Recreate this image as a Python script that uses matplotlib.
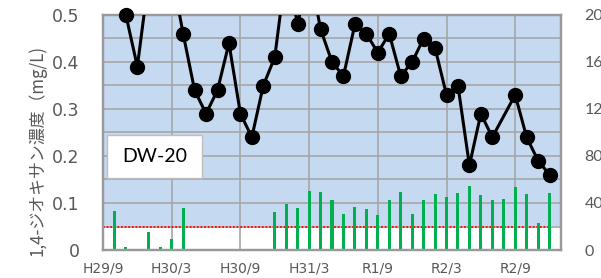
import matplotlib.pyplot as plt
import matplotlib.patches as patches
import numpy as np

# --- colours ---
COLOR_BG = '#C5D9F1'      # light blue plot background above the standard
COLOR_GRID = '#A6A6A6'
COLOR_TEXT = '#595959'
COLOR_BAR = '#00B050'
COLOR_LIMIT = '#FF0000'

# --- data (x = months since H29/9) ---
conc_months = [2, 3, 4, 5, 6, 7, 8, 9, 10, 11, 12, 13, 14, 15, 16, 17, 18, 19, 20,
               21, 22, 23, 24, 25, 26, 27, 28, 29, 30, 31, 32, 33, 34, 36, 37, 38, 39]
conc_values = [0.50, 0.39, 0.58, 0.62, 0.59, 0.46, 0.34, 0.29, 0.34, 0.44, 0.29, 0.24,
               0.35, 0.41, 0.60, 0.48, 0.60, 0.47, 0.40, 0.37, 0.48, 0.46, 0.42, 0.46,
               0.37, 0.40, 0.45, 0.43, 0.33, 0.35, 0.18, 0.29, 0.24, 0.33, 0.24, 0.19, 0.16]

bar_months = [1, 2, 4, 5, 6, 7, 15, 16, 17, 18, 19, 20, 21, 22, 23, 24, 25, 26, 27,
              28, 29, 30, 31, 32, 33, 34, 35, 36, 37, 38, 39]
bar_values = [33.5, 2.3, 15.5, 2.3, 9.2, 35.5, 32.6, 39.4, 35.5, 50.2, 49.4, 42.3, 30.6,
              36.3, 34.6, 29.5, 42.3, 49.4, 30.6, 42.3, 47.4, 45.4, 48.2, 54.5, 46.5,
              42.3, 43.4, 53.6, 47.4, 22.7, 48.2]

x_tick_months = [0, 6, 12, 18, 24, 30, 36]
x_tick_labels = ['H29/9', 'H30/3', 'H30/9', 'H31/3', 'R1/9', 'R2/3', 'R2/9']
left_ticks = [0, 0.1, 0.2, 0.3, 0.4, 0.5]
left_tick_labels = ['0', '0.1', '0.2', '0.3', '0.4', '0.5']
right_ticks = [0, 40, 80, 120, 160, 200]

limit_conc = 0.05          # 基準値 (mg/L)
y_max = 0.5
y2_max = 200
x_max = 40

fig = plt.figure(figsize=(6.01, 2.78), dpi=100)
ax1 = fig.add_axes([103 / 601, 1 - 250 / 278, 458 / 601, 235 / 278])
ax2 = ax1.twinx()

# bars + background go on the back axis, the line on the front one
ax1.set_zorder(ax2.get_zorder() + 1)
ax1.patch.set_visible(False)

scale = y2_max / y_max
ax2.axhspan(limit_conc * scale, y2_max, color=COLOR_BG, zorder=0, lw=0)
ax2.set_axisbelow(True)
ax2.xaxis.set_visible(True)
ax2.set_xticks(np.arange(0, x_max, 3))
ax2.tick_params(axis='x', labelbottom=False, labeltop=False, length=0)
ax2.set_yticks(right_ticks)
ax2.set_yticks(np.arange(20, y2_max, 20), minor=True)
ax2.grid(True, which='both', color=COLOR_GRID, lw=1.2)
ax2.hlines(limit_conc * scale, 0, bar_months[-1], colors=COLOR_LIMIT,
           linestyles=(0, (1, 1)), lw=1.3, zorder=1.5)
ax2.bar(bar_months, bar_values, width=0.27, color=COLOR_BAR, zorder=2)
ax2.set_ylim(0, y2_max)
ax2.tick_params(axis='y', which='both', length=0, pad=17, colors=COLOR_TEXT,
                labelsize=11.5)
for lab in ax2.get_yticklabels():
    lab.set_fontfamily('Lato')

# concentration line
x = np.array(conc_months)
y = np.array(conc_values)
ax1.plot(x, y, color='black', lw=2.2, zorder=3)
inside = y <= y_max
ax1.plot(x[inside], y[inside], 'o', color='black', ms=10, zorder=4, clip_on=False)

ax1.set_xlim(0, x_max)
ax1.set_ylim(0, y_max)
ax1.set_xticks(x_tick_months)
ax1.set_xticklabels(x_tick_labels)
ax1.set_yticks(left_ticks)
ax1.set_yticklabels(left_tick_labels)
ax1.tick_params(axis='y', length=0, pad=17, colors=COLOR_TEXT, labelsize=12.5)
ax1.tick_params(axis='x', length=0, pad=8, colors=COLOR_TEXT, labelsize=10)

for ax in (ax1, ax2):
    for s in ax.spines.values():
        s.set_color('#999999')
        s.set_linewidth(1.6)

# station label box
ax1.add_patch(patches.Rectangle((0.009, 0.306), 0.207, 0.183, transform=ax1.transAxes,
                                facecolor='white', edgecolor='#BFBFBF', lw=1, zorder=5))
ax1.text(0.1124, 0.398, 'DW-20', transform=ax1.transAxes, ha='center', va='center',
         fontsize=14, family='Lato', color='black', zorder=6)

fig.text(37 / 601, 1 - 151 / 278, '1,4-ジオキサン濃度（mg/L)', rotation=90,
         ha='center', va='center', fontsize=12.2, color=COLOR_TEXT,
         family=['Noto Sans CJK JP', 'DejaVu Sans'])

fig.savefig('out.png', dpi=100)
